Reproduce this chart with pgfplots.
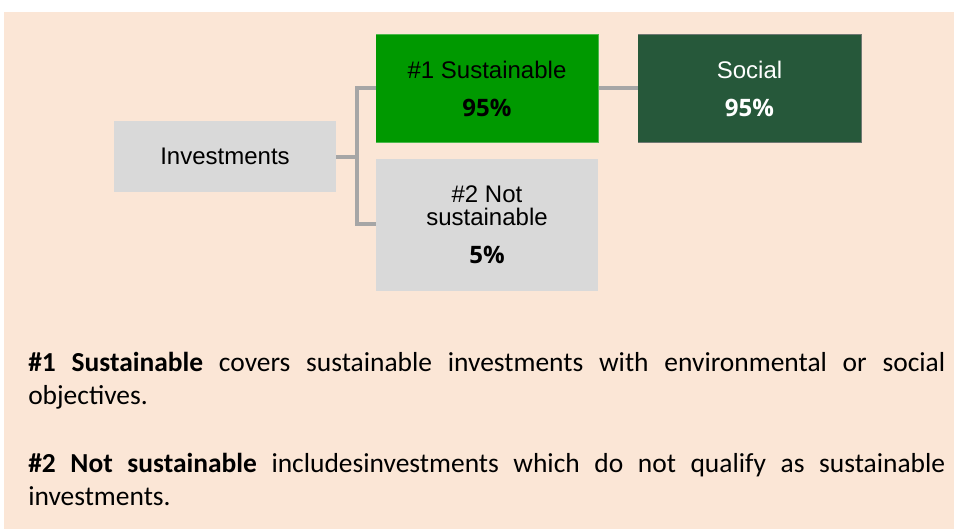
\documentclass[border=0pt]{standalone}
\usepackage{fontspec}
\setmainfont{Liberation Sans}
\newfontfamily\opensans{Open Sans}
\newfontfamily\carlito{Carlito}
\usepackage{pgfplots}
\pgfplotsset{compat=1.18}
\definecolor{bgpeach}{RGB}{251,230,214}
\definecolor{boxgray}{RGB}{217,217,217}
\definecolor{susgreen}{RGB}{0,153,0}
\definecolor{socgreen}{RGB}{38,88,58}
\definecolor{linegray}{RGB}{166,166,166}
\begin{document}
\begin{tikzpicture}
\begin{axis}[
  scale only axis, width=715.5pt, height=396.75pt,
  xmin=0, xmax=954, ymin=0, ymax=529, y dir=reverse,
  axis lines=none, clip=false, no markers,
]
% page and panel background
\addplot[fill=white, draw=none] coordinates {(0,0) (954,0) (954,529) (0,529)};
\addplot[fill=bgpeach, draw=none] coordinates {(4,12) (954,12) (954,529) (4,529)};
% connectors
\addplot[draw=linegray, line width=2.3pt] coordinates {(336,157) (357,157)};
\addplot[draw=linegray, line width=2.3pt] coordinates {(376,88) (357,88) (357,224) (376,224)};
\addplot[draw=linegray, line width=2.3pt] coordinates {(598,88) (638,88)};
% boxes
\addplot[fill=boxgray, draw=none] coordinates {(114,121) (336,121) (336,192) (114,192)};
\addplot[fill=susgreen, draw=susgreen!70!white, line width=0.6pt] coordinates {(376,34) (598,34) (598,142) (376,142)};
\addplot[fill=boxgray, draw=none] coordinates {(376,159) (598,159) (598,291) (376,291)};
\addplot[fill=socgreen, draw=gray!80!socgreen, line width=0.6pt] coordinates {(638,34) (861,34) (861,142) (638,142)};
% box labels
\node[anchor=base, inner sep=0pt, font=\fontsize{18}{21}\selectfont] at (axis cs:225,164) {Investments};
\node[anchor=base, inner sep=0pt, font=\fontsize{18}{21}\selectfont] at (axis cs:487,78) {\#1 Sustainable};
\node[anchor=base, inner sep=0pt, font=\fontsize{18}{21}\selectfont\opensans\bfseries] at (axis cs:487,116) {95\%};
\node[anchor=base, inner sep=0pt, font=\fontsize{18}{21}\selectfont, text=white] at (axis cs:749.5,78) {Social};
\node[anchor=base, inner sep=0pt, font=\fontsize{18}{21}\selectfont\opensans\bfseries, text=white] at (axis cs:749.5,116) {95\%};
\node[anchor=base, inner sep=0pt, font=\fontsize{18}{21}\selectfont] at (axis cs:487,202) {\#2 Not};
\node[anchor=base, inner sep=0pt, font=\fontsize{18}{21}\selectfont] at (axis cs:487,225) {sustainable};
\node[anchor=base, inner sep=0pt, font=\fontsize{18}{21}\selectfont\opensans\bfseries] at (axis cs:487,263) {5\%};
% explanatory text
\node[anchor=base west, inner sep=0pt] at (axis cs:28,371) {\parbox[t]{687.75pt}{\carlito\fontsize{20.6}{25.1}\selectfont\hyphenpenalty=10000\exhyphenpenalty=10000
\textbf{\#1 Sustainable} covers sustainable investments with environmental or social\linebreak objectives.\par
\vspace{25.9pt}
\textbf{\#2 Not sustainable} includesinvestments which do not qualify as sustainable\linebreak investments.\par}};
\end{axis}
\end{tikzpicture}
\end{document}
